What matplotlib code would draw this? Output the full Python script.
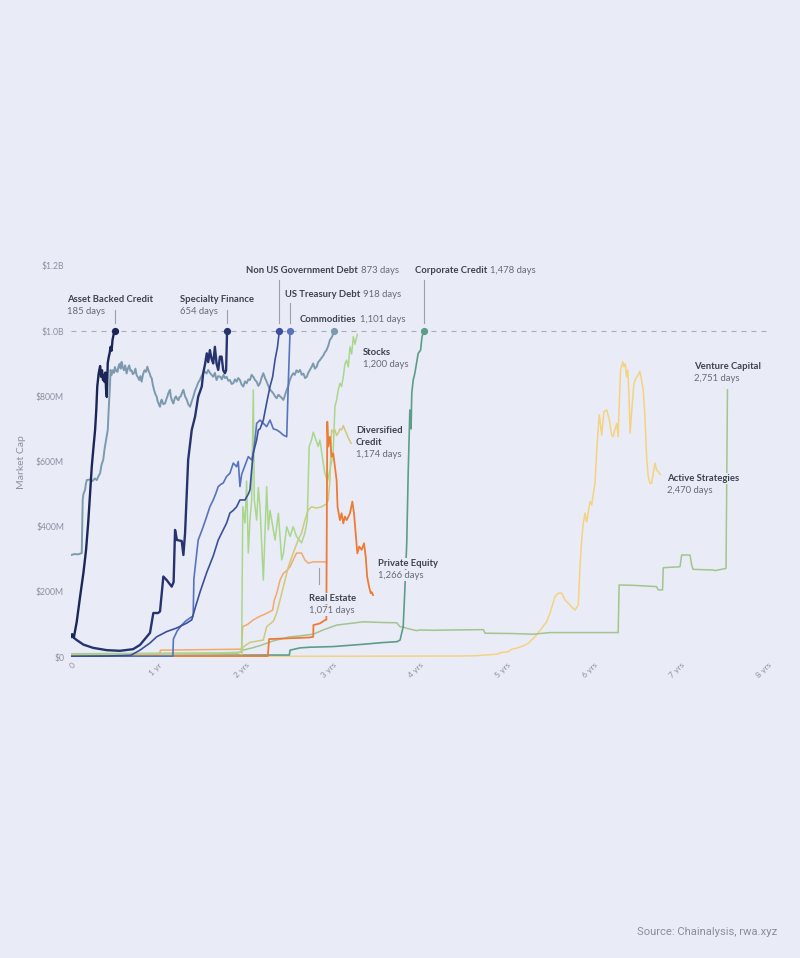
import numpy as np
import matplotlib
matplotlib.use('Agg')
import matplotlib.pyplot as plt
from matplotlib import transforms

plt.rcParams['font.family'] = ['Lato', 'DejaVu Sans']

# ---------------- data: days since launch, market cap ($M) ----------------
asset_backed_days = [0, 5, 12, 24, 38, 52, 63, 72, 80, 87, 95, 101, 106, 110, 116, 122, 126, 130, 134, 138,
                     141, 144, 147, 150, 154, 158, 162, 166, 170, 174, 178, 182, 185]
asset_backed_vals = [62, 70, 60, 108, 185, 258, 328, 411, 503, 584, 650, 697, 760, 830, 870, 893, 860, 880, 850, 866,
                     844, 873, 820, 798, 902, 920, 933, 952, 940, 973, 988, 995, 1000]

specialty_days = [0, 10, 24, 52, 93, 150, 205, 260, 289, 331, 345, 365, 373, 387, 401, 422, 430, 436, 444, 464,
                  471, 478, 491, 506, 520, 533, 548, 554, 562, 569, 575, 582, 589, 596, 603, 610, 617, 624, 631, 638,
                  645, 650, 654]
specialty_vals = [68, 60, 52, 38, 28, 21, 19, 24, 37, 74, 135, 135, 140, 247, 236, 216, 230, 390, 359, 356,
                  313, 380, 605, 697, 738, 799, 830, 871, 900, 932, 905, 942, 915, 901, 952, 900, 881, 922, 922, 880,
                  871, 880, 1000]

non_us_days = [0, 150, 250, 289, 331, 359, 401, 443, 485, 506, 520, 541, 569, 596, 617, 631, 652, 666, 680, 694,
               708, 729, 743, 750, 757, 764, 778, 785, 792, 806, 820, 834, 845, 855, 865, 873]
non_us_vals = [2, 3, 5, 21, 43, 62, 78, 89, 104, 114, 150, 200, 260, 310, 359, 380, 411, 442, 450, 461,
               482, 482, 500, 513, 574, 626, 666, 697, 700, 727, 780, 830, 860, 912, 950, 1000]

us_treasury_days = [0, 200, 427, 429, 445, 464, 480, 499, 512, 515, 524, 533, 544, 554, 568, 582, 596, 606, 617, 628,
                    638, 652, 666, 680, 694, 701, 708, 715, 722, 743, 757, 764, 771, 778, 792, 806, 820, 834, 848, 862,
                    876, 890, 904, 911, 918]
us_treasury_vals = [1, 2, 2, 55, 80, 98, 110, 120, 126, 240, 300, 359, 380, 400, 430, 461, 482, 500, 523, 530,
                    534, 554, 564, 595, 584, 600, 523, 560, 574, 615, 605, 626, 666, 717, 727, 717, 707, 727, 700, 697,
                    690, 681, 676, 850, 1000]

commodities_points = [
    (0, 313), (15, 316), (30, 315), (45, 319), (49, 482), (52, 500), (59, 513), (62, 530), (66, 543), (80, 545),
    (90, 540), (100, 548), (108, 543), (115, 555), (122, 564), (128, 590), (135, 605), (141, 640), (147, 666),
    (154, 697), (158, 760), (163, 830), (166, 881), (170, 865), (175, 880), (180, 872), (184, 890), (189, 878),
    (195, 875), (199, 892), (204, 900), (208, 885), (212, 906), (217, 890), (222, 880), (227, 895), (233, 870),
    (238, 885), (244, 895), (249, 878), (254, 880), (259, 868), (265, 872), (270, 885), (275, 865), (281, 858),
    (286, 850), (291, 862), (296, 845), (302, 868), (308, 880), (314, 875), (320, 891), (325, 878), (330, 870),
    (334, 860), (338, 856), (343, 835), (348, 820), (353, 808), (359, 799), (363, 785), (366, 780), (370, 772),
    (373, 768), (377, 785), (380, 790), (387, 776), (394, 778), (399, 790), (404, 800), (409, 812), (415, 820),
    (418, 800), (422, 790), (426, 782), (429, 778), (435, 795), (440, 800), (445, 792), (450, 788), (455, 798),
    (460, 800), (466, 812), (471, 820), (478, 800), (485, 790), (492, 775), (499, 768), (506, 785), (513, 800),
    (520, 818), (527, 830), (533, 842), (540, 850), (547, 862), (554, 871), (561, 876), (568, 870), (575, 881),
    (582, 872), (589, 866), (596, 860), (603, 872), (610, 850), (617, 862), (626, 860), (632, 852), (639, 866),
    (645, 856), (652, 860), (659, 848), (666, 850), (673, 838), (680, 840), (687, 852), (694, 845), (701, 856),
    (708, 850), (715, 836), (722, 830), (729, 846), (736, 840), (743, 852), (750, 850), (757, 866), (764, 860),
    (771, 850), (778, 845), (785, 832), (792, 840), (799, 858), (806, 871), (813, 856), (820, 845), (827, 832),
    (834, 820), (841, 815), (848, 809), (855, 800), (862, 794), (869, 805), (876, 800), (883, 795), (890, 789),
    (895, 800), (900, 810), (905, 822), (910, 830), (917, 850), (924, 862), (931, 871), (938, 866), (945, 880),
    (952, 874), (960, 881), (967, 866), (974, 870), (981, 856), (988, 860), (994, 872), (1000, 880), (1008, 890),
    (1015, 901), (1022, 885), (1029, 890), (1036, 905), (1043, 911), (1050, 918), (1057, 925), (1064, 935),
    (1071, 942), (1078, 955), (1085, 973), (1090, 978), (1095, 985), (1101, 1000)]
commodities_days = [p[0] for p in commodities_points]
commodities_vals = [p[1] for p in commodities_points]

corporate_days = [0, 200, 500, 800, 915, 918, 960, 1000, 1098, 1170, 1240, 1300, 1366, 1379, 1392, 1399, 1407, 1413,
                  1420, 1425, 1428, 1434, 1441, 1448, 1455, 1465, 1471, 1478]
corporate_vals = [3, 4, 5, 6, 6, 21, 28, 30, 32, 36, 40, 44, 47, 52, 93, 206, 350, 565,
                  758, 700, 809, 850, 871, 902, 932, 942, 983, 1000]

stocks_days = [0, 300, 600, 715, 720, 729, 736, 743, 750, 757, 764, 768, 778, 785, 792, 806, 813, 820, 827, 834,
               841, 855, 869, 883, 890, 904, 918, 931, 945, 966, 980, 990, 998, 1008, 1015, 1022, 1036, 1043, 1057, 1064,
               1075, 1085, 1092, 1099, 1106, 1113, 1120, 1127, 1134, 1141, 1148, 1155, 1162, 1169, 1176, 1183, 1190, 1200]
stocks_vals = [8, 10, 12, 15, 461, 411, 540, 319, 420, 482, 820, 482, 420, 520, 461, 236, 380, 523, 390, 450,
               420, 359, 441, 298, 319, 400, 370, 400, 370, 350, 380, 420, 646, 666, 690, 676, 646, 666, 595, 564,
               540, 574, 600, 635, 768, 789, 820, 840, 830, 860, 900, 911, 890, 952, 930, 983, 960, 990]

diversified_days = [0, 400, 715, 720, 750, 790, 806, 820, 848, 862, 876, 890, 911, 931, 952, 966, 980, 994, 1008, 1029,
                    1050, 1071, 1078, 1085, 1092, 1099, 1106, 1113, 1120, 1127, 1134, 1141, 1148, 1155, 1160, 1167, 1174]
diversified_vals = [2, 3, 4, 30, 45, 50, 52, 93, 110, 135, 175, 216, 277, 319, 359, 380, 420, 451, 461, 457,
                    461, 470, 482, 543, 697, 690, 697, 680, 687, 700, 697, 710, 697, 685, 676, 665, 656]

real_estate_days = [0, 370, 375, 715, 719, 740, 764, 792, 820, 845, 852, 862, 876, 890, 904, 918, 931, 945, 966, 980,
                    994, 1015, 1055, 1071]
real_estate_vals = [5, 6, 21, 24, 93, 100, 114, 125, 134, 144, 175, 195, 236, 257, 265, 277, 298, 319, 319, 298,
                    288, 292, 292, 292]

private_equity_days = [0, 400, 825, 830, 900, 1000, 1015, 1016, 1043, 1066, 1070, 1074, 1078, 1085, 1092, 1099, 1106,
                       1113, 1117, 1127, 1134, 1141, 1148, 1155, 1162, 1169, 1179, 1186, 1194, 1200, 1208, 1218, 1228,
                       1235, 1241, 1249, 1256, 1260, 1266]
private_equity_vals = [2, 3, 3, 55, 57, 60, 62, 98, 103, 114, 114, 722, 646, 676, 615, 625, 584,
                       543, 461, 420, 441, 410, 431, 420, 430, 441, 477, 441, 370, 318, 339, 329, 349,
                       308, 247, 216, 196, 199, 190]

active_days = [0, 800, 1630, 1700, 1790, 1797, 1832, 1847, 1867, 1895, 1916, 1930, 1951, 1972, 1993, 2007, 2018, 2028,
               2042, 2056, 2070, 2084, 2098, 2112, 2126, 2133, 2140, 2147, 2154, 2161, 2168, 2175, 2182, 2189, 2196,
               2203, 2209, 2214, 2224, 2233, 2245, 2256, 2266, 2272, 2279, 2287, 2293, 2297, 2303, 2312, 2317, 2323,
               2328, 2333, 2338, 2343, 2349, 2359, 2367, 2377, 2384, 2391, 2398, 2405, 2412, 2419, 2426, 2433, 2440,
               2447, 2454, 2461, 2470]
active_vals = [1, 2, 3, 4, 9, 13, 16, 24, 27, 34, 42, 52, 68, 88, 108, 134, 160, 185,
               196, 196, 175, 165, 154, 144, 160, 277, 359, 410, 441, 415, 446, 477, 467, 502, 533,
               635, 697, 743, 681, 753, 758, 727, 681, 676, 697, 717, 676, 768, 881, 906, 891, 900,
               860, 881, 809, 687, 748, 840, 855, 866, 876, 850, 820, 738, 615, 554, 533, 533, 564,
               595, 574, 569, 560]

venture_days = [0, 300, 700, 720, 760, 792, 850, 918, 960, 1015, 1057, 1113, 1170, 1225, 1300, 1365, 1379, 1392, 1407,
                1448, 1462, 1518, 1600, 1728, 1735, 1850, 1937, 2007, 2150, 2293, 2297, 2356, 2454, 2461, 2479, 2482,
                2552, 2559, 2594, 2601, 2607, 2691, 2698, 2745, 2751]
venture_vals = [10, 11, 12, 21, 28, 35, 50, 62, 65, 70, 83, 98, 103, 108, 106, 105, 93, 92, 88,
                81, 83, 82, 83, 84, 73, 72, 70, 75, 75, 75, 221, 220, 216, 206, 206, 274,
                277, 313, 313, 282, 269, 267, 265, 272, 820]

y_ticks = [0, 200, 400, 600, 800, 1000, 1200]
y_tick_labels = ['$0', '$200M', '$400M', '$600M', '$800M', '$1.0B', '$1.2B']
x_ticks = [0, 365, 730, 1095, 1460, 1825, 2190, 2555, 2920]
x_tick_labels = ['0', '1 yr', '2 yrs', '3 yrs', '4 yrs', '5 yrs', '6 yrs', '7 yrs', '8 yrs']

# ---------------- styling ----------------
BG = '#E9ECF7'
GRAY = '#8B90A0'
NAME_C = '#3E424D'
DAYS_C = '#666B77'
LEAD_C = '#9AA0AD'
W, H = 800, 958

fig = plt.figure(figsize=(W / 100, H / 100), dpi=100, facecolor=BG)
ax = fig.add_axes([71 / W, 1 - 657 / H, 696.8 / W, 391 / H])
ax.set_facecolor(BG)
ax.set_xlim(0, 2920)
ax.set_ylim(0, 1200)
for s in ax.spines.values():
    s.set_visible(False)

ax.axhline(1000, color='#A6ACBA', lw=0.8, dashes=(4.5, 4.5), zorder=1)

series = [
    (active_days, active_vals, '#F4D27E', 1.1, False),
    (venture_days, venture_vals, '#A3C48C', 1.1, False),
    (corporate_days, corporate_vals, '#5E9C8A', 1.2, True),
    (real_estate_days, real_estate_vals, '#F4A86A', 1.1, False),
    (diversified_days, diversified_vals, '#CFC97A', 1.1, False),
    (stocks_days, stocks_vals, '#AAD68C', 1.1, False),
    (private_equity_days, private_equity_vals, '#EE7B35', 1.3, False),
    (commodities_days, commodities_vals, '#7C9AAE', 1.4, True),
    (us_treasury_days, us_treasury_vals, '#5873BD', 1.2, True),
    (non_us_days, non_us_vals, '#3C4F9C', 1.2, True),
    (specialty_days, specialty_vals, '#26336E', 1.7, True),
    (asset_backed_days, asset_backed_vals, '#1B2657', 1.7, True),
]
for i, (d, v, c, lw, dot) in enumerate(series):
    ax.plot(d, v, color=c, lw=lw, zorder=2 + i * 0.1, solid_joinstyle='round')
    if dot:
        ax.plot([d[-1]], [v[-1]], 'o', color=c, ms=4.2, zorder=4)

ax.set_yticks(y_ticks)
ax.set_yticklabels(y_tick_labels)
ax.tick_params(axis='y', length=0, pad=5, labelsize=6.2, labelcolor=GRAY)
ax.set_xticks(x_ticks)
ax.set_xticklabels(x_tick_labels, rotation=45, ha='right', va='center', rotation_mode='anchor')
ax.tick_params(axis='x', length=0, pad=5, labelsize=6, labelcolor=GRAY)
shift = transforms.ScaledTranslation(3 / 100, 0, fig.dpi_scale_trans)
for lbl in ax.get_xticklabels():
    lbl.set_transform(lbl.get_transform() + shift)

fig.text(22 / W, 1 - 462 / H, 'Market Cap', rotation=90, ha='center', va='center',
         fontsize=7.5, color=GRAY)

# ---------------- labels ----------------
FS = 6.8
bb = dict(facecolor=BG, edgecolor='none', pad=0.6)


def fpos(x, y):
    return x / W, 1 - y / H


def name(x, y, s):
    return fig.text(*fpos(x, y), s, fontsize=FS, fontweight='bold', color=NAME_C,
                    ha='left', va='baseline', bbox=bb, zorder=10)


def days(x, y, s):
    return fig.text(*fpos(x, y), s, fontsize=FS, color=DAYS_C,
                    ha='left', va='baseline', bbox=bb, zorder=10)


def inline(x, y, n, d):
    t = name(x, y, n)
    fig.canvas.draw()
    ext = t.get_window_extent()
    fig.text(ext.x1 / W + 3 / W, 1 - y / H, d, fontsize=FS, color=DAYS_C,
             ha='left', va='baseline', bbox=bb, zorder=10)


name(67, 302, 'Asset Backed Credit'); days(67, 314, '185 days')
name(180, 302, 'Specialty Finance'); days(180, 314, '654 days')
inline(246, 273, 'Non US Government Debt', '873 days')
inline(285, 297, 'US Treasury Debt', '918 days')
inline(300, 322.5, 'Commodities', '1,101 days')
inline(415, 273, 'Corporate Credit', '1,478 days')
name(363, 355, 'Stocks'); days(363, 367, '1,200 days')
name(356, 433, 'Diversified'); name(356, 445, 'Credit'); days(356, 457, '1,174 days')
name(377.5, 566, 'Private Equity'); days(377.5, 578, '1,266 days')
name(309, 601, 'Real Estate'); days(309, 613, '1,071 days')
name(694, 369, 'Venture Capital'); days(694, 381, '2,751 days')
name(667, 481, 'Active Strategies'); days(667, 493, '2,470 days')

# leader lines (x in data days, y in figure pixels)
blend = transforms.blended_transform_factory(ax.transData, fig.transFigure)
leaders = [(asset_backed_days[-1], 310, 323), (specialty_days[-1], 310, 323),
           (non_us_days[-1], 280, 323), (us_treasury_days[-1], 303, 323),
           (corporate_days[-1], 280, 323), (1040, 568, 584)]
for xd, y0, y1 in leaders:
    ax.plot([xd, xd], [1 - y0 / H, 1 - y1 / H], transform=blend, color=LEAD_C, lw=0.8,
            clip_on=False, zorder=3)

fig.text(777 / W, 1 - 932 / H, 'Source: Chainalysis, rwa.xyz', ha='right', va='center',
         fontsize=8.1, color='#8A8F9D', family=['Roboto', 'DejaVu Sans'])

fig.savefig('out.png', dpi=100, facecolor=BG)
